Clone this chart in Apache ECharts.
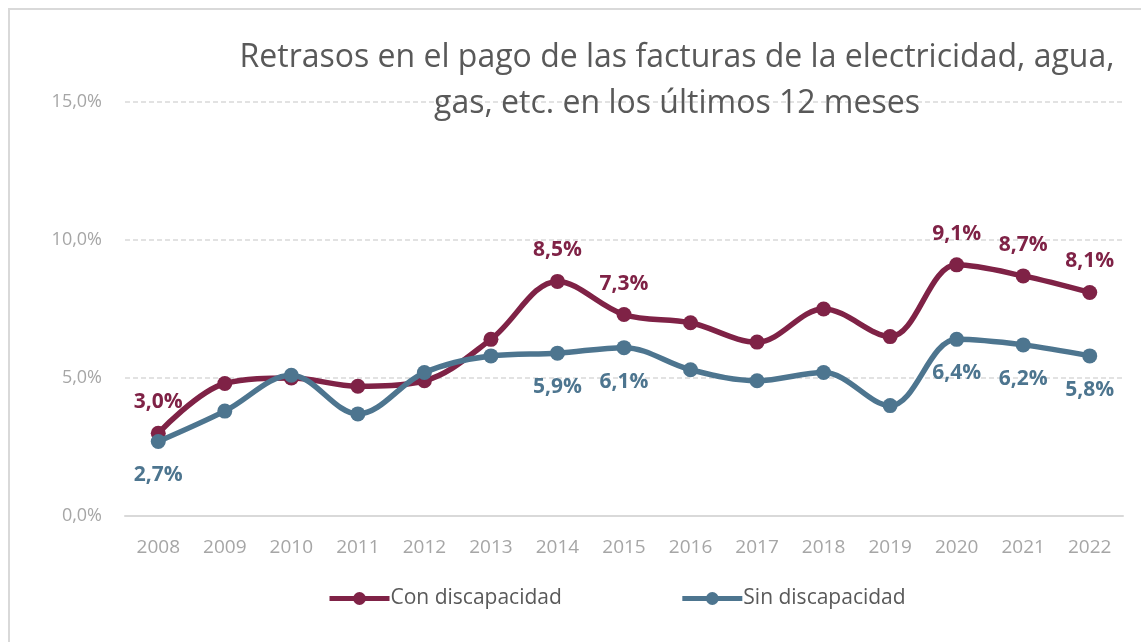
<!DOCTYPE html>
<html>
<head>
<meta charset="utf-8">
<script src="https://cdn.jsdelivr.net/npm/echarts@6/dist/echarts.min.js"></script>
<style>
html,body{margin:0;padding:0;background:#fff;}
#frame{position:absolute;left:8px;top:8px;width:1140px;height:640px;border-left:2px solid #d9d9d9;border-top:2px solid #d9d9d9;}
#chart{position:absolute;left:0;top:0;width:1141px;height:642px;}
</style>
</head>
<body>
<div id="frame"></div>
<div id="chart"></div>
<script>
const years = ['2008','2009','2010','2011','2012','2013','2014','2015','2016','2017','2018','2019','2020','2021','2022'];
const conDiscapacidad = [3.0, 4.8, 5.0, 4.7, 4.9, 6.4, 8.5, 7.3, 7.0, 6.3, 7.5, 6.5, 9.1, 8.7, 8.1];
const sinDiscapacidad = [2.7, 3.8, 5.1, 3.7, 5.2, 5.8, 5.9, 6.1, 5.3, 4.9, 5.2, 4.0, 6.4, 6.2, 5.8];
const labeledYears = ['2008','2014','2015','2020','2021','2022'];

const FONT = 'Open Sans';
const fmt = v => v.toFixed(1).replace('.', ',') + '%';

function build(values, pos, dist, color) {
  return values.map((v, i) => {
    const show = labeledYears.includes(years[i]);
    return {
      value: v,
      label: {
        show: show,
        position: pos,
        distance: dist,
        formatter: p => fmt(p.value),
        color: color,
        fontFamily: FONT,
        fontWeight: 'bold',
        fontSize: 21
      }
    };
  });
}

const chart = echarts.init(document.getElementById('chart'), null, {renderer: 'canvas'});
chart.setOption({
  animation: false,
  backgroundColor: 'transparent',
  title: {
    text: 'Retrasos en el pago de las facturas de la electricidad, agua,\ngas, etc. en los últimos 12 meses',
    left: 672,
    textAlign: 'center',
    top: 30,
    textStyle: {fontFamily: FONT, fontWeight: 'normal', fontSize: 32, color: '#595959', lineHeight: 46}
  },
  legend: {
    top: 583,
    left: 322,
    itemWidth: 60,
    itemHeight: 16,
    itemGap: 118,
    lineStyle: {width: 5},
    textStyle: {fontFamily: FONT, fontSize: 21, color: '#595959', padding: [0,0,0,-4]},
    data: ['Con discapacidad', 'Sin discapacidad']
  },
  grid: {left: 125, right: 18, top: 102, bottom: 126, containLabel: false},
  xAxis: {
    type: 'category',
    data: years,
    boundaryGap: true,
    axisLine: {lineStyle: {color: '#d9d9d9', width: 2}},
    axisTick: {show: false},
    axisLabel: {fontFamily: FONT, fontSize: 19, color: '#a6a6a6', margin: 22}
  },
  yAxis: {
    type: 'value',
    min: 0, max: 15, interval: 5,
    axisLine: {show: false},
    axisTick: {show: false},
    splitLine: {lineStyle: {color: '#d9d9d9', type: [5, 3], width: 1.5}},
    axisLabel: {fontFamily: FONT, fontSize: 18, color: '#a6a6a6', margin: 23, formatter: v => v.toFixed(1).replace('.', ',') + '%'}
  },
  series: [
    {
      name: 'Con discapacidad',
      type: 'line',
      smooth: 0.35,
      symbol: 'circle',
      symbolSize: 15,
      lineStyle: {width: 5.5, color: '#7f2246'},
      itemStyle: {color: '#7f2246'},
      data: build(conDiscapacidad, 'top', 13, '#7f2246'),
      z: 3
    },
    {
      name: 'Sin discapacidad',
      type: 'line',
      smooth: 0.35,
      symbol: 'circle',
      symbolSize: 15,
      lineStyle: {width: 5.5, color: '#4d758f'},
      itemStyle: {color: '#4d758f'},
      data: build(sinDiscapacidad, 'bottom', 16, '#4d758f'),
      z: 4
    }
  ]
});
</script>
</body>
</html>
